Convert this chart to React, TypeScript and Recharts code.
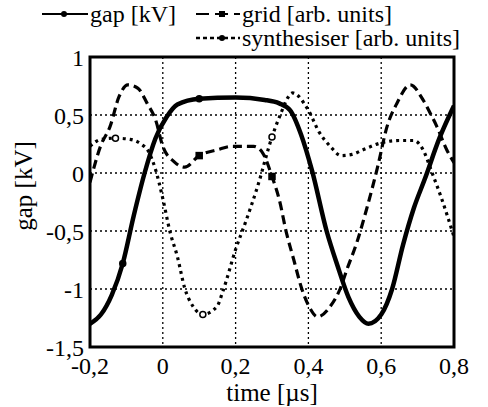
import React from "react";
import {
  LineChart,
  Line,
  XAxis,
  YAxis,
  CartesianGrid,
  ReferenceArea,
} from "recharts";

// gap voltage
const gapTime = [
  -0.2, -0.17, -0.14, -0.11, -0.08, -0.05, -0.02, 0.01, 0.04, 0.1, 0.2, 0.28,
  0.32, 0.35, 0.38, 0.41, 0.45, 0.48, 0.51, 0.54, 0.565, 0.6, 0.63, 0.66, 0.69,
  0.72, 0.76, 0.8,
];
const gapKv = [
  -1.3, -1.22, -1.05, -0.78, -0.37, 0.0, 0.3, 0.48, 0.59, 0.64, 0.65, 0.63,
  0.6, 0.54, 0.33, 0.02, -0.5, -0.8, -1.07, -1.24, -1.3, -1.22, -1.0, -0.62,
  -0.3, -0.05, 0.3, 0.58,
];
const gapMarks = [0.1, -0.11];

// grid signal
const gridTime = [
  -0.2, -0.17, -0.145, -0.12, -0.096, -0.068, -0.043, -0.02, 0.0, 0.03, 0.06,
  0.1, 0.15, 0.19, 0.25, 0.275, 0.3, 0.32, 0.34, 0.36, 0.38, 0.405, 0.425,
  0.46, 0.487, 0.506, 0.533, 0.56, 0.59, 0.616, 0.643, 0.68, 0.715, 0.734,
  0.753, 0.78, 0.8,
];
const gridArb = [
  -0.08, 0.24, 0.4, 0.66, 0.76, 0.73, 0.6, 0.46, 0.23, 0.1, 0.05, 0.15, 0.2,
  0.23, 0.23, 0.17, -0.03, -0.23, -0.52, -0.75, -0.98, -1.17, -1.24, -1.15,
  -1.0, -0.83, -0.6, -0.31, 0.05, 0.4, 0.6, 0.76, 0.63, 0.52, 0.4, 0.2, 0.09,
];
const gridMarks = [0.3, 0.1];

// synthesiser signal
const synthTime = [
  -0.2, -0.17, -0.13, -0.09, -0.06, -0.04, -0.02, 0.0, 0.02, 0.04, 0.06,
  0.083, 0.11, 0.149, 0.165, 0.2, 0.23, 0.26, 0.3, 0.32, 0.357, 0.4, 0.43,
  0.46, 0.49, 0.52, 0.55, 0.6, 0.65, 0.69, 0.715, 0.74, 0.767, 0.8,
];
const synthArb = [
  0.23, 0.29, 0.3, 0.29, 0.25, 0.19, 0.03, -0.22, -0.51, -0.72, -0.99, -1.15,
  -1.22, -1.15, -1.02, -0.66, -0.4, -0.12, 0.31, 0.48, 0.69, 0.54, 0.35, 0.23,
  0.15, 0.16, 0.2, 0.26, 0.28, 0.28, 0.2, 0.0, -0.23, -0.55,
];
const synthMarks = [0.11, 0.3, -0.13];

const xTicks = [-0.2, 0, 0.2, 0.4, 0.6, 0.8];
const yTicks = [-1.5, -1, -0.5, 0, 0.5, 1];

const zip = (t: number[], v: number[]) => t.map((x, i) => ({ t: x, v: v[i] }));
const gapData = zip(gapTime, gapKv);
const gridData = zip(gridTime, gridArb);
const synthData = zip(synthTime, synthArb);

const FONT = "Liberation Serif, Times New Roman, serif";
const comma = (n: number) => String(n).replace(".", ",");

// only a few sparse markers, like the scanned figure
const markDot = (marks: number[], shape: "circle" | "square", open = false) =>
  (props: any) => {
    const { cx, cy, payload, index } = props;
    if (!marks.includes(payload.t)) return <g key={index} />;
    const fill = open ? "#fff" : "#000";
    if (shape === "square")
      return (
        <rect key={index} x={cx - 3} y={cy - 3} width={6} height={6} fill={fill} stroke="#000" strokeWidth={1.5} />
      );
    return <circle key={index} cx={cx} cy={cy} r={3} fill={fill} stroke="#000" strokeWidth={1.5} />;
  };

export default function App() {
  const tick = { fontSize: 24, fill: "#000", fontFamily: FONT };
  return (
    <div
      style={{
        position: "absolute",
        left: 0,
        top: 0,
        width: 488,
        height: 407,
        background: "#fff",
        fontFamily: FONT,
        color: "#000",
      }}
    >
      <LineChart
        width={488}
        height={407}
        margin={{ top: 57, right: 34, bottom: 30, left: 30 }}
      >
        <CartesianGrid stroke="#000" strokeDasharray="2 3" strokeWidth={1.3} />
        <XAxis
          type="number"
          dataKey="t"
          domain={[-0.2, 0.8]}
          ticks={xTicks}
          tickFormatter={comma}
          tick={tick}
          tickLine={false}
          tickSize={0}
          tickMargin={10}
          axisLine={false}
          height={30}
          allowDataOverflow
        />
        <YAxis
          type="number"
          domain={[-1.5, 1]}
          ticks={yTicks}
          tickFormatter={comma}
          tick={tick}
          tickLine={false}
          tickSize={0}
          tickMargin={6}
          axisLine={false}
          width={60}
          allowDataOverflow
        />
        <ReferenceArea
          x1={-0.2}
          x2={0.8}
          y1={-1.5}
          y2={1}
          fill="none"
          stroke="#000"
          strokeWidth={3}
        />
        <Line
          data={gridData}
          dataKey="v"
          type="monotone"
          stroke="#000"
          strokeWidth={3.2}
          strokeDasharray="9 5"
          dot={markDot(gridMarks, "square")}
          isAnimationActive={false}
        />
        <Line
          data={synthData}
          dataKey="v"
          type="monotone"
          stroke="#000"
          strokeWidth={3.2}
          strokeDasharray="3 4"
          dot={markDot(synthMarks, "circle", true)}
          isAnimationActive={false}
        />
        <Line
          data={gapData}
          dataKey="v"
          type="monotone"
          stroke="#000"
          strokeWidth={4.5}
          dot={markDot(gapMarks, "circle")}
          isAnimationActive={false}
        />
      </LineChart>

      {/* legend */}
      <svg
        width={488}
        height={52}
        style={{ position: "absolute", left: 0, top: 0 }}
      >
        <line x1={42} y1={14} x2={88} y2={14} stroke="#000" strokeWidth={2} />
        <circle cx={64} cy={14} r={3} fill="#000" />
        <text x={90} y={22} fontSize={24} fontFamily={FONT}>
          gap [kV]
        </text>
        <line x1={196} y1={14} x2={240} y2={14} stroke="#000" strokeWidth={2} strokeDasharray="13 6" />
        <rect x={219} y={11} width={6} height={6} fill="#000" />
        <text x={242} y={22} fontSize={24} fontFamily={FONT}>
          grid [arb. units]
        </text>
        <line x1={196} y1={38} x2={240} y2={38} stroke="#000" strokeWidth={2.5} strokeDasharray="4 3" />
        <circle cx={222} cy={38} r={3} fill="#000" />
        <text x={242} y={46} fontSize={24} fontFamily={FONT}>
          synthesiser [arb. units]
        </text>
      </svg>

      <div
        style={{
          position: "absolute",
          left: 24,
          top: 186,
          transform: "translate(-50%, -50%) rotate(-90deg)",
          fontSize: 25,
          whiteSpace: "nowrap",
        }}
      >
        gap [kV]
      </div>
      <div
        style={{
          position: "absolute",
          left: 272,
          top: 393,
          transform: "translate(-50%, -50%)",
          fontSize: 25,
          whiteSpace: "nowrap",
        }}
      >
        time [µs]
      </div>
    </div>
  );
}
